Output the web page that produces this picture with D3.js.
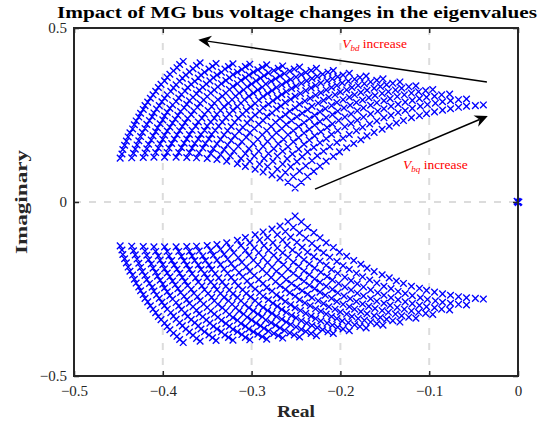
<!DOCTYPE html>
<html>
<head>
<meta charset="utf-8">
<script src="https://cdn.jsdelivr.net/npm/d3@7"></script>
<style>
  body { margin: 0; background: #fff; }
  text { font-family: "Liberation Serif", "DejaVu Serif", serif; }
</style>
</head>
<body>
<svg id="chart" width="539" height="426"></svg>
<script>
// Closed-loop eigenvalues (upper half-plane) of the MG model.
// One row per Vbd step; Vbq rises along each row.
const eigReal = [
  [-0.448,-0.446,-0.445,-0.443,-0.441,-0.439,-0.437,-0.434,-0.432,-0.430,-0.427,-0.425,-0.422,-0.420,-0.417,-0.414,-0.411,-0.408,-0.405,-0.402,-0.398,-0.395,-0.392,-0.388,-0.384,-0.381,-0.377],
  [-0.435,-0.433,-0.431,-0.429,-0.427,-0.425,-0.423,-0.420,-0.418,-0.415,-0.412,-0.410,-0.407,-0.404,-0.401,-0.398,-0.395,-0.391,-0.388,-0.385,-0.381,-0.378,-0.374,-0.370,-0.366,-0.362,-0.358],
  [-0.422,-0.420,-0.418,-0.416,-0.413,-0.411,-0.408,-0.406,-0.403,-0.400,-0.398,-0.395,-0.392,-0.389,-0.385,-0.382,-0.379,-0.375,-0.372,-0.368,-0.364,-0.360,-0.357,-0.353,-0.348,-0.344,-0.340],
  [-0.410,-0.408,-0.405,-0.403,-0.400,-0.398,-0.395,-0.392,-0.389,-0.386,-0.383,-0.380,-0.376,-0.373,-0.370,-0.366,-0.362,-0.359,-0.355,-0.351,-0.347,-0.343,-0.339,-0.334,-0.330,-0.326,-0.321],
  [-0.398,-0.395,-0.393,-0.390,-0.387,-0.384,-0.381,-0.378,-0.375,-0.372,-0.368,-0.365,-0.361,-0.358,-0.354,-0.350,-0.346,-0.342,-0.338,-0.334,-0.329,-0.325,-0.321,-0.316,-0.311,-0.307,-0.302],
  [-0.385,-0.382,-0.379,-0.376,-0.373,-0.370,-0.367,-0.363,-0.360,-0.356,-0.353,-0.349,-0.345,-0.342,-0.338,-0.333,-0.329,-0.325,-0.321,-0.316,-0.312,-0.307,-0.303,-0.298,-0.293,-0.288,-0.283],
  [-0.373,-0.370,-0.367,-0.364,-0.360,-0.357,-0.353,-0.350,-0.346,-0.342,-0.339,-0.335,-0.331,-0.326,-0.322,-0.318,-0.314,-0.309,-0.305,-0.300,-0.295,-0.290,-0.286,-0.281,-0.275,-0.270,-0.265],
  [-0.362,-0.359,-0.355,-0.352,-0.348,-0.345,-0.341,-0.337,-0.333,-0.329,-0.325,-0.321,-0.316,-0.312,-0.308,-0.303,-0.298,-0.293,-0.288,-0.284,-0.278,-0.273,-0.268,-0.263,-0.257,-0.252,-0.246],
  [-0.350,-0.346,-0.343,-0.339,-0.335,-0.331,-0.327,-0.323,-0.319,-0.315,-0.310,-0.306,-0.301,-0.296,-0.292,-0.287,-0.282,-0.277,-0.272,-0.266,-0.261,-0.256,-0.250,-0.244,-0.239,-0.233,-0.227],
  [-0.339,-0.335,-0.331,-0.327,-0.323,-0.319,-0.314,-0.310,-0.305,-0.301,-0.296,-0.291,-0.287,-0.281,-0.276,-0.271,-0.266,-0.261,-0.255,-0.250,-0.244,-0.238,-0.232,-0.226,-0.220,-0.214,-0.208],
  [-0.328,-0.324,-0.320,-0.315,-0.311,-0.306,-0.302,-0.297,-0.292,-0.287,-0.283,-0.277,-0.272,-0.267,-0.262,-0.256,-0.251,-0.245,-0.239,-0.233,-0.228,-0.222,-0.215,-0.209,-0.203,-0.197,-0.190],
  [-0.316,-0.312,-0.307,-0.303,-0.298,-0.293,-0.288,-0.283,-0.278,-0.273,-0.268,-0.262,-0.257,-0.251,-0.246,-0.240,-0.234,-0.228,-0.222,-0.216,-0.210,-0.204,-0.198,-0.191,-0.184,-0.178,-0.171],
  [-0.307,-0.302,-0.297,-0.292,-0.287,-0.282,-0.277,-0.272,-0.266,-0.261,-0.255,-0.249,-0.243,-0.237,-0.232,-0.225,-0.219,-0.213,-0.206,-0.200,-0.193,-0.187,-0.180,-0.173,-0.166,-0.159,-0.152],
  [-0.296,-0.291,-0.286,-0.281,-0.275,-0.270,-0.264,-0.259,-0.253,-0.247,-0.241,-0.235,-0.229,-0.223,-0.217,-0.210,-0.204,-0.197,-0.190,-0.184,-0.177,-0.170,-0.162,-0.155,-0.148,-0.141,-0.133],
  [-0.287,-0.282,-0.276,-0.271,-0.265,-0.259,-0.253,-0.247,-0.241,-0.235,-0.229,-0.223,-0.216,-0.209,-0.203,-0.196,-0.189,-0.182,-0.175,-0.168,-0.161,-0.153,-0.146,-0.138,-0.131,-0.123,-0.115],
  [-0.277,-0.271,-0.265,-0.260,-0.254,-0.247,-0.241,-0.235,-0.229,-0.222,-0.215,-0.209,-0.202,-0.195,-0.188,-0.181,-0.174,-0.166,-0.159,-0.151,-0.144,-0.136,-0.128,-0.120,-0.112,-0.104,-0.096],
  [-0.268,-0.262,-0.256,-0.249,-0.243,-0.237,-0.230,-0.223,-0.216,-0.210,-0.203,-0.195,-0.188,-0.181,-0.174,-0.166,-0.158,-0.151,-0.143,-0.135,-0.127,-0.119,-0.111,-0.103,-0.094,-0.086,-0.077],
  [-0.259,-0.253,-0.246,-0.239,-0.232,-0.226,-0.219,-0.212,-0.204,-0.197,-0.190,-0.182,-0.175,-0.167,-0.159,-0.151,-0.143,-0.135,-0.127,-0.119,-0.110,-0.102,-0.093,-0.085,-0.076,-0.067,-0.058],
  [-0.251,-0.244,-0.237,-0.230,-0.223,-0.216,-0.208,-0.201,-0.193,-0.185,-0.177,-0.170,-0.162,-0.153,-0.145,-0.137,-0.129,-0.120,-0.111,-0.103,-0.094,-0.085,-0.076,-0.067,-0.058,-0.048,-0.039]
];
const eigImag = [
  [0.126,0.138,0.151,0.163,0.175,0.187,0.199,0.210,0.222,0.233,0.244,0.255,0.266,0.277,0.287,0.298,0.308,0.318,0.329,0.338,0.348,0.358,0.367,0.377,0.386,0.395,0.404],
  [0.127,0.140,0.152,0.164,0.176,0.188,0.200,0.211,0.223,0.234,0.245,0.256,0.267,0.277,0.288,0.298,0.308,0.318,0.328,0.337,0.347,0.356,0.365,0.374,0.383,0.392,0.400],
  [0.128,0.141,0.153,0.166,0.178,0.190,0.202,0.213,0.225,0.236,0.247,0.258,0.269,0.279,0.289,0.299,0.309,0.319,0.329,0.338,0.347,0.356,0.365,0.373,0.382,0.390,0.398],
  [0.129,0.142,0.155,0.167,0.180,0.192,0.204,0.215,0.227,0.238,0.249,0.260,0.271,0.281,0.291,0.301,0.311,0.321,0.330,0.339,0.348,0.357,0.365,0.373,0.382,0.389,0.397],
  [0.129,0.142,0.155,0.168,0.181,0.193,0.205,0.217,0.228,0.240,0.251,0.262,0.272,0.283,0.293,0.303,0.313,0.322,0.331,0.340,0.349,0.357,0.366,0.373,0.381,0.389,0.396],
  [0.129,0.142,0.156,0.169,0.181,0.194,0.206,0.218,0.230,0.241,0.252,0.263,0.274,0.284,0.294,0.304,0.313,0.323,0.332,0.340,0.349,0.357,0.365,0.373,0.380,0.387,0.394],
  [0.128,0.142,0.155,0.168,0.181,0.194,0.206,0.218,0.230,0.241,0.252,0.263,0.274,0.284,0.294,0.304,0.313,0.322,0.331,0.339,0.348,0.356,0.363,0.371,0.378,0.384,0.391],
  [0.127,0.141,0.155,0.168,0.181,0.194,0.206,0.218,0.230,0.242,0.253,0.264,0.274,0.284,0.294,0.304,0.313,0.322,0.330,0.339,0.347,0.354,0.362,0.369,0.376,0.382,0.388],
  [0.125,0.139,0.153,0.167,0.180,0.193,0.205,0.217,0.229,0.241,0.252,0.263,0.273,0.283,0.293,0.303,0.312,0.320,0.329,0.337,0.345,0.352,0.359,0.366,0.372,0.378,0.384],
  [0.122,0.136,0.150,0.164,0.177,0.190,0.203,0.215,0.227,0.239,0.250,0.261,0.271,0.281,0.291,0.300,0.309,0.317,0.326,0.333,0.341,0.348,0.355,0.361,0.367,0.373,0.378],
  [0.117,0.132,0.146,0.160,0.173,0.186,0.199,0.211,0.223,0.234,0.246,0.256,0.267,0.276,0.286,0.295,0.304,0.312,0.320,0.328,0.335,0.342,0.348,0.354,0.360,0.365,0.370],
  [0.110,0.125,0.139,0.153,0.167,0.180,0.193,0.205,0.217,0.229,0.240,0.251,0.261,0.271,0.281,0.290,0.298,0.307,0.314,0.322,0.329,0.335,0.342,0.347,0.353,0.358,0.362],
  [0.102,0.117,0.132,0.146,0.160,0.174,0.187,0.199,0.211,0.223,0.234,0.245,0.255,0.265,0.275,0.284,0.292,0.301,0.308,0.316,0.322,0.329,0.335,0.340,0.345,0.350,0.354],
  [0.094,0.109,0.125,0.139,0.153,0.167,0.180,0.193,0.205,0.217,0.228,0.239,0.249,0.259,0.268,0.277,0.286,0.294,0.301,0.308,0.315,0.321,0.327,0.332,0.337,0.341,0.345],
  [0.086,0.102,0.117,0.132,0.146,0.159,0.173,0.185,0.198,0.209,0.221,0.231,0.242,0.251,0.261,0.270,0.278,0.286,0.293,0.300,0.306,0.312,0.317,0.322,0.327,0.331,0.334],
  [0.078,0.094,0.109,0.124,0.138,0.152,0.166,0.178,0.190,0.202,0.214,0.224,0.234,0.244,0.253,0.262,0.270,0.278,0.285,0.291,0.297,0.303,0.308,0.313,0.317,0.320,0.323],
  [0.069,0.085,0.101,0.116,0.130,0.144,0.157,0.170,0.182,0.194,0.205,0.216,0.226,0.235,0.244,0.253,0.261,0.268,0.275,0.281,0.287,0.292,0.297,0.301,0.304,0.308,0.310],
  [0.057,0.073,0.089,0.104,0.119,0.133,0.146,0.159,0.171,0.183,0.194,0.205,0.215,0.224,0.233,0.242,0.249,0.257,0.263,0.269,0.275,0.280,0.284,0.288,0.291,0.294,0.296],
  [0.040,0.057,0.073,0.088,0.103,0.117,0.131,0.144,0.156,0.168,0.179,0.190,0.200,0.209,0.218,0.227,0.234,0.242,0.248,0.254,0.259,0.264,0.268,0.272,0.275,0.277,0.279]
];
// Eigenvalues sitting at the origin
const originReal = [0, -0.001, 0, 0.001];
const originImag = [0, 0.002, -0.002, 0];

const xTicks = [-0.5, -0.4, -0.3, -0.2, -0.1, 0];
const xTickLabels = ["\u22120.5", "\u22120.4", "\u22120.3", "\u22120.2", "\u22120.1", "0"];
const yTicks = [-0.5, 0, 0.5];
const yTickLabels = ["\u22120.5", "0", "0.5"];
const xGrid = [-0.4, -0.3, -0.2, -0.1];
const yGrid = [0];

const svg = d3.select("#chart");
const box = { left: 74, right: 518, top: 28, bottom: 376 };
const x = d3.scaleLinear().domain([-0.5, 0]).range([box.left, box.right]);
const y = d3.scaleLinear().domain([-0.5, 0.5]).range([box.bottom, box.top]);
const ink = "#262626";

svg.append("rect").attr("width", 539).attr("height", 426).attr("fill", "#fff");

// dashed grid
const grid = svg.append("g").attr("stroke", "#dcdcdc").attr("stroke-width", 2)
  .attr("stroke-dasharray", "7,8");
grid.selectAll(".gx").data(xGrid).join("line").attr("class", "gx")
  .attr("x1", d => x(d)).attr("x2", d => x(d))
  .attr("y1", box.top).attr("y2", box.bottom);
grid.selectAll(".gy").data(yGrid).join("line").attr("class", "gy")
  .attr("y1", d => y(d)).attr("y2", d => y(d))
  .attr("x1", box.left).attr("x2", box.right);

// eigenvalue markers (upper branch and its conjugate)
const pts = [];
eigReal.forEach((row, i) => row.forEach((re, k) => {
  const im = eigImag[i][k];
  pts.push([re, im]);
  pts.push([re, -im]);
}));
originReal.forEach((re, i) => pts.push([re, originImag[i]]));

const s = 3.3;
const p = d3.path();
pts.forEach(([re, im]) => {
  const cx = x(re), cy = y(im);
  p.moveTo(cx - s, cy - s); p.lineTo(cx + s, cy + s);
  p.moveTo(cx - s, cy + s); p.lineTo(cx + s, cy - s);
});
svg.append("path").attr("d", p.toString()).attr("fill", "none")
  .attr("stroke", "#0000ff").attr("stroke-width", 1.35);

// axes
function styleAxis(g) {
  g.select(".domain").remove();
  g.selectAll(".tick line").attr("stroke", ink).attr("stroke-width", 1.5);
  g.selectAll(".tick text").attr("fill", ink).attr("font-size", 15)
    .attr("font-family", "'Liberation Serif', serif");
}
svg.append("g").attr("transform", `translate(0,${box.bottom})`)
  .call(d3.axisBottom(x).tickValues(xTicks).tickFormat((d, i) => xTickLabels[i])
    .tickSizeInner(-5).tickSizeOuter(0).tickPadding(9))
  .call(styleAxis);
svg.append("g").attr("transform", `translate(0,${box.top})`)
  .call(d3.axisTop(x).tickValues(xTicks).tickFormat("").tickSizeInner(-5).tickSizeOuter(0))
  .call(styleAxis);
svg.append("g").attr("transform", `translate(${box.left},0)`)
  .call(d3.axisLeft(y).tickValues(yTicks).tickFormat((d, i) => yTickLabels[i])
    .tickSizeInner(-5).tickSizeOuter(0).tickPadding(7))
  .call(styleAxis);
svg.append("g").attr("transform", `translate(${box.right},0)`)
  .call(d3.axisRight(y).tickValues(yTicks).tickFormat("").tickSizeInner(-5).tickSizeOuter(0))
  .call(styleAxis);

svg.append("rect").attr("x", box.left).attr("y", box.top)
  .attr("width", box.right - box.left).attr("height", box.bottom - box.top)
  .attr("fill", "none").attr("stroke", ink).attr("stroke-width", 2);

// titles
svg.append("text").attr("x", 297).attr("y", 18).attr("text-anchor", "middle")
  .attr("font-weight", "bold").attr("font-size", 16).attr("fill", "#000")
  .attr("textLength", 480).attr("lengthAdjust", "spacingAndGlyphs")
  .text("Impact of MG bus voltage changes in the eigenvalues");
svg.append("text").attr("x", (box.left + box.right) / 2).attr("y", 417)
  .attr("text-anchor", "middle").attr("font-weight", "bold").attr("font-size", 17)
  .attr("fill", ink).attr("textLength", 38).attr("lengthAdjust", "spacingAndGlyphs")
  .text("Real");
svg.append("text").attr("transform", `translate(27,${(box.top + box.bottom) / 2}) rotate(-90)`)
  .attr("text-anchor", "middle").attr("font-weight", "bold").attr("font-size", 17)
  .attr("fill", ink).attr("textLength", 104).attr("lengthAdjust", "spacingAndGlyphs")
  .text("Imaginary");

// direction arrows
const arrows = [
  { from: [-0.035, 0.345], to: [-0.360, 0.466] },
  { from: [-0.2286, 0.037], to: [-0.034, 0.247] }
];
arrows.forEach(a => {
  const x0 = x(a.from[0]), y0 = y(a.from[1]), x1 = x(a.to[0]), y1 = y(a.to[1]);
  const ang = Math.atan2(y1 - y0, x1 - x0);
  const L = 13, Wd = 6, notch = 9;
  const ux = Math.cos(ang), uy = Math.sin(ang);
  const bx = x1 - ux * L, by = y1 - uy * L;
  const nx = x1 - ux * notch, ny = y1 - uy * notch;
  svg.append("line").attr("x1", x0).attr("y1", y0).attr("x2", nx).attr("y2", ny)
    .attr("stroke", "#000").attr("stroke-width", 1.5);
  const hp = d3.path();
  hp.moveTo(x1, y1);
  hp.lineTo(bx - uy * Wd, by + ux * Wd);
  hp.lineTo(nx, ny);
  hp.lineTo(bx + uy * Wd, by - ux * Wd);
  hp.closePath();
  svg.append("path").attr("d", hp.toString()).attr("fill", "#000");
});

// annotation labels
function voltLabel(px, py, sub) {
  const t = svg.append("text").attr("x", x(px)).attr("y", y(py))
    .attr("fill", "#ff0000").attr("font-size", 13.5);
  t.append("tspan").attr("font-style", "italic").text("V");
  t.append("tspan").attr("font-style", "italic").attr("font-size", 9)
    .attr("dy", 3).text(sub);
  t.append("tspan").attr("dy", -3).text(" increase");
}
voltLabel(-0.198, 0.442, "bd");
voltLabel(-0.1295, 0.095, "bq");
</script>
</body>
</html>
